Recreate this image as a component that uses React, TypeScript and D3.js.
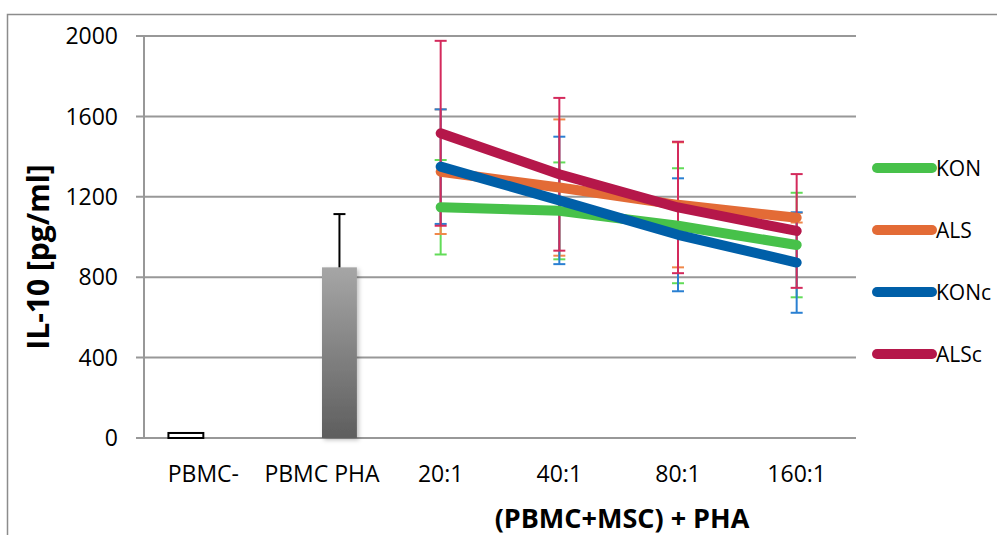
import * as d3 from "d3";
import React, { useRef, useEffect } from "react";

const categories = ["PBMC-", "PBMC PHA", "20:1", "40:1", "80:1", "160:1"];
const barSeries = ["PBMC-", "PBMC PHA"];
const barValues = [25, 849];
const barErrors = [0, 265];

const lineCategories = ["20:1", "40:1", "80:1", "160:1"];
const seriesNames = ["KON", "ALS", "KONc", "ALSc"];
const konValues = [1148, 1130, 1056, 960];
const konErrors = [235, 241, 286, 260];
const alsValues = [1325, 1246, 1160, 1096];
const alsErrors = [310, 339, 311, 24];
const koncValues = [1350, 1182, 1011, 873];
const koncErrors = [285, 317, 281, 250];
const alscValues = [1516, 1312, 1147, 1030];
const alscErrors = [460, 380, 327, 283];

const yTicks = [0, 400, 800, 1200, 1600, 2000];

const lineColors = ["#47c14a", "#e36b36", "#005fa8", "#b5174a"];
const errColors = ["#62dc58", "#f0884a", "#2a80d2", "#d42a5c"];

const font = "'Open Sans', 'Liberation Sans', sans-serif";

function App() {
    const ref = useRef(null);
    const width = 997;
    const height = 535;

    useEffect(() => {
        const svg = d3.select(ref.current);
        svg.selectAll("*").remove();

        const left = 144;
        const right = 856;
        const top = 36;
        const bottom = 438;

        const x = d3.scaleBand().domain(categories).range([left, right]);
        const bw = x.bandwidth();
        const sub = d3.scaleBand().domain(barSeries).range([0, bw]).paddingOuter(0.7);
        const y = d3.scaleLinear().domain([0, 2000]).range([bottom, top]);

        const defs = svg.append("defs");
        const grad = defs
            .append("linearGradient")
            .attr("id", "barGrad")
            .attr("x1", 0).attr("y1", 0).attr("x2", 0).attr("y2", 1);
        grad.append("stop").attr("offset", "0%").attr("stop-color", "#a6a6a6");
        grad.append("stop").attr("offset", "100%").attr("stop-color", "#5e5e5e");
        const filt = defs.append("filter").attr("id", "shadow")
            .attr("x", "-20%").attr("y", "-20%").attr("width", "150%").attr("height", "150%");
        filt.append("feDropShadow").attr("dx", 2).attr("dy", 2).attr("stdDeviation", 2)
            .attr("flood-color", "#000").attr("flood-opacity", 0.25);

        // outer frame
        svg.append("rect")
            .attr("x", 7.5).attr("y", 14.5)
            .attr("width", 1100).attr("height", 600)
            .attr("fill", "none").attr("stroke", "#8c8c8c").attr("stroke-width", 1.5);

        // gridlines
        svg.append("g")
            .selectAll("line")
            .data(yTicks)
            .enter()
            .append("line")
            .attr("x1", left - 8).attr("x2", right)
            .attr("y1", (d) => y(d)).attr("y2", (d) => y(d))
            .attr("stroke", "#989898").attr("stroke-width", 2);

        svg.append("line")
            .attr("x1", left).attr("x2", left)
            .attr("y1", top).attr("y2", bottom)
            .attr("stroke", "#989898").attr("stroke-width", 2);

        // y tick labels
        svg.append("g")
            .selectAll("text")
            .data(yTicks)
            .enter()
            .append("text")
            .attr("x", 118).attr("y", (d) => y(d))
            .attr("dy", "0.36em")
            .attr("text-anchor", "end")
            .attr("font-family", font).attr("font-size", 23)
            .text((d) => d);

        // x labels
        svg.append("g")
            .selectAll("text")
            .data(categories)
            .enter()
            .append("text")
            .attr("x", (d) => x(d) + bw / 2).attr("y", 482)
            .attr("text-anchor", "middle")
            .attr("font-family", font).attr("font-size", 23)
            .text((d) => d);

        // bars
        const bars = svg.append("g");
        barSeries.forEach((s, i) => {
            const bx = x(categories[i]) + sub(s);
            const bh = bottom - y(barValues[i]);
            bars.append("rect")
                .attr("x", bx).attr("y", y(barValues[i]))
                .attr("width", sub.bandwidth()).attr("height", bh)
                .attr("fill", i === 0 ? "#fff" : "url(#barGrad)")
                .attr("stroke", i === 0 ? "#000" : "none")
                .attr("stroke-width", 2)
                .attr("filter", i === 0 ? null : "url(#shadow)");
            if (barErrors[i] > 0) {
                const cx = bx + sub.bandwidth() / 2;
                bars.append("line")
                    .attr("x1", cx).attr("x2", cx)
                    .attr("y1", y(barValues[i])).attr("y2", y(barValues[i] + barErrors[i]))
                    .attr("stroke", "#000").attr("stroke-width", 2);
                bars.append("line")
                    .attr("x1", cx - 6).attr("x2", cx + 6)
                    .attr("y1", y(barValues[i] + barErrors[i])).attr("y2", y(barValues[i] + barErrors[i]))
                    .attr("stroke", "#000").attr("stroke-width", 2);
            }
        });

        const allValues = [konValues, alsValues, koncValues, alscValues];
        const allErrors = [konErrors, alsErrors, koncErrors, alscErrors];
        const cxOf = (c) => x(c) + bw / 2;

        // error bars
        const errs = svg.append("g");
        allValues.forEach((vals, si) => {
            vals.forEach((v, i) => {
                const e = allErrors[si][i];
                const cx = cxOf(lineCategories[i]);
                const g = errs.append("g").attr("stroke", errColors[si]).attr("stroke-width", 2);
                g.append("line").attr("x1", cx).attr("x2", cx).attr("y1", y(v - e)).attr("y2", y(v + e));
                [v - e, v + e].forEach((t) => {
                    g.append("line").attr("x1", cx - 6).attr("x2", cx + 6).attr("y1", y(t)).attr("y2", y(t));
                });
            });
        });

        // lines
        const line = d3.line()
            .x((d, i) => cxOf(lineCategories[i]))
            .y((d) => y(d));
        allValues.forEach((vals, si) => {
            svg.append("path")
                .datum(vals)
                .attr("d", line)
                .attr("fill", "none")
                .attr("stroke", lineColors[si])
                .attr("stroke-width", 10)
                .attr("stroke-linecap", "round")
                .attr("stroke-linejoin", "round");
        });

        // legend
        const legend = svg.append("g");
        seriesNames.forEach((name, i) => {
            const ly = 168 + i * 62;
            legend.append("line")
                .attr("x1", 877).attr("x2", 932)
                .attr("y1", ly).attr("y2", ly)
                .attr("stroke", lineColors[i]).attr("stroke-width", 10)
                .attr("stroke-linecap", "round");
            legend.append("text")
                .attr("x", 936).attr("y", ly).attr("dy", "0.36em")
                .attr("font-family", font).attr("font-size", 21)
                .text(name);
        });

        // axis titles
        svg.append("text")
            .attr("transform", `translate(49, 257) rotate(-90)`)
            .attr("text-anchor", "middle")
            .attr("font-family", font).attr("font-size", 30).attr("font-weight", "bold")
            .text("IL-10 [pg/ml]");

        svg.append("text")
            .attr("x", 622).attr("y", 528)
            .attr("text-anchor", "middle")
            .attr("font-family", font).attr("font-size", 27).attr("font-weight", "bold")
            .text("(PBMC+MSC) + PHA");
    }, []);

    return (
        <svg
            ref={ref}
            width={width}
            height={height}
            style={{ position: "absolute", left: 0, top: 0, background: "#fff" }}
        ></svg>
    );
}

export default App;
